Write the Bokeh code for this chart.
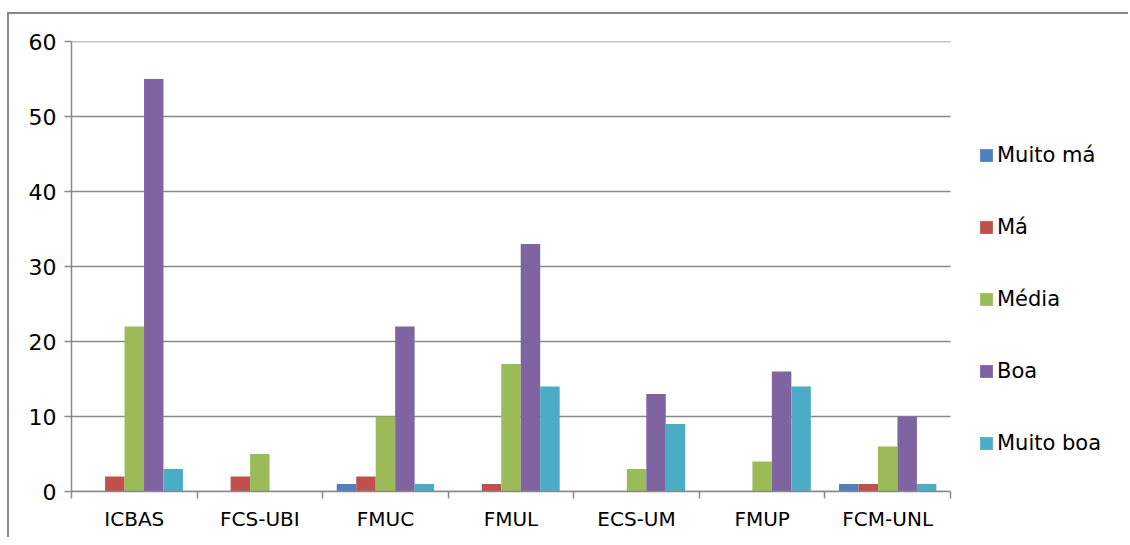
from bokeh.plotting import figure
from bokeh.models import (Range1d, LinearAxis, FixedTicker,
                          Legend, LegendItem, ColumnDataSource)
from bokeh.transform import dodge
from bokeh.embed import file_html
from bokeh.resources import INLINE

categories = ["ICBAS", "FCS-UBI", "FMUC", "FMUL", "ECS-UM", "FMUP", "FCM-UNL"]
series_names = ["Muito má", "Má", "Média", "Boa", "Muito boa"]
muito_ma = [0, 0, 1, 0, 0, 0, 1]
ma = [2, 2, 2, 1, 0, 0, 1]
media = [22, 5, 10, 17, 3, 4, 6]
boa = [55, 0, 22, 33, 13, 16, 10]
muito_boa = [3, 0, 1, 14, 9, 14, 1]
y_ticks = [0, 10, 20, 30, 40, 50, 60]
colors = ["#4F81BD", "#C0504D", "#9BBB59", "#8064A2", "#4BACC6"]

FONT = "DejaVu Sans"
GRAY = "#898989"

n = len(categories)
centers = [i + 0.5 for i in range(n)]
src = ColumnDataSource(dict(pos=centers, s0=muito_ma, s1=ma, s2=media, s3=boa, s4=muito_boa))

W, H = 1121, 525
BL, BT, BB, BR = 62, 27, 48, 0
chart_px = 879
frame_px = W - BL - BR
xmax = n * frame_px / chart_px

p = figure(x_range=Range1d(0, xmax), y_range=Range1d(0, 60),
           width=W, height=H, output_backend="svg", toolbar_location=None,
           x_axis_location=None, min_border_left=BL, min_border_top=BT,
           min_border_bottom=BB, min_border_right=BR)
p.outline_line_color = None
p.styles = {"border-top": "2px solid " + GRAY, "border-left": "2px solid " + GRAY,
            "margin-top": "12px", "margin-left": "7px"}
p.xgrid.grid_line_color = None
p.ygrid.grid_line_color = None

# horizontal gridlines only across the chart part
p.segment(x0=[0] * len(y_ticks), x1=[n] * len(y_ticks), y0=y_ticks, y1=y_ticks,
          line_color=GRAY, line_width=1.5)

bw = 0.155
offsets = [-2 * bw, -bw, 0, bw, 2 * bw]
items = []
for i, (name, col) in enumerate(zip(series_names, colors)):
    r = p.vbar(x=dodge("pos", offsets[i]), top="s%d" % i, width=bw,
               source=src, fill_color=col, line_color=None)
    items.append(LegendItem(label=name, renderers=[r]))

# y axis
ya = p.yaxis[0]
ya.ticker = FixedTicker(ticks=y_ticks)
ya.axis_line_color = GRAY
ya.axis_line_width = 1.5
ya.major_tick_line_color = GRAY
ya.major_tick_line_width = 1.5
ya.major_tick_out = 7
ya.major_tick_in = 0
ya.minor_tick_line_color = None
ya.major_label_text_font = FONT
ya.major_label_text_font_size = "22px"
ya.major_label_text_color = "black"
ya.major_label_standoff = 8

# boundary tick axis
bounds = list(range(n + 1))
ta = LinearAxis(ticker=FixedTicker(ticks=bounds), bounds=(0, n),
                major_label_overrides={k: "" for k in bounds})
ta.axis_line_color = GRAY
ta.axis_line_width = 1.5
ta.major_tick_line_color = GRAY
ta.major_tick_line_width = 1.5
ta.major_tick_out = 7
ta.major_tick_in = 0
ta.minor_tick_line_color = None
ta.major_label_text_font_size = "1px"
ta.major_label_standoff = 0
p.add_layout(ta, "below")

ca = LinearAxis(ticker=FixedTicker(ticks=centers),
                major_label_overrides={c: lab for c, lab in zip(centers, categories)})
ca.axis_line_color = None
ca.major_tick_line_color = None
ca.minor_tick_line_color = None
ca.major_tick_out = 0
ca.major_label_text_font = FONT
ca.major_label_text_font_size = "20px"
ca.major_label_text_color = "black"
ca.major_label_standoff = 8
p.add_layout(ca, "below")

legend = Legend(items=items, location=(907, 36), orientation="vertical")
legend.glyph_width = 16
legend.glyph_height = 16
legend.label_height = 24
legend.spacing = 48
legend.padding = 0
legend.margin = 0
legend.label_standoff = 3
legend.label_text_font = FONT
legend.label_text_font_size = "21px"
legend.label_text_color = "black"
legend.border_line_color = None
legend.background_fill_alpha = 0
p.add_layout(legend, "center")

open("out.html", "w").write(file_html(p, INLINE))
